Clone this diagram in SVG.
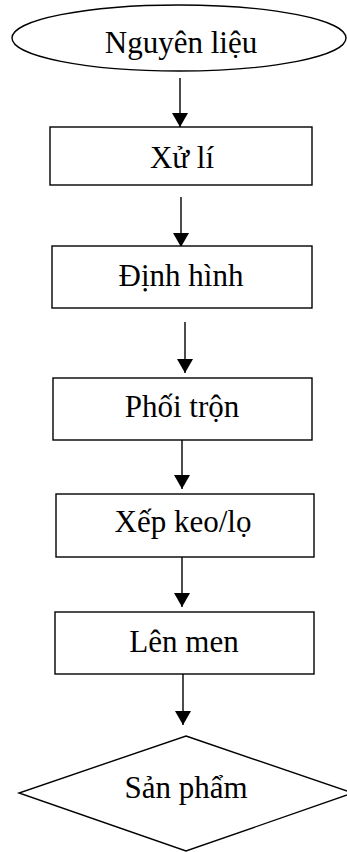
<svg xmlns="http://www.w3.org/2000/svg" width="347" height="852" viewBox="0 0 347 852">
  <style>
    .shape { fill: #ffffff; stroke: #000000; stroke-width: 1.4; }
    .label { font-family: "Liberation Serif", "Times New Roman", serif; font-size: 31px; fill: #000000; text-anchor: middle; }
    .flow { stroke: #000000; stroke-width: 1.4; fill: none; marker-end: url(#head); }
  </style>
  <defs>
    <marker id="head" markerUnits="userSpaceOnUse" markerWidth="14" markerHeight="16" refX="14" refY="8" orient="auto" viewBox="0 0 14 16">
      <path d="M0,0 L14,8 L0,16 Z" fill="#000000"/>
    </marker>
  </defs>
  <rect width="347" height="852" fill="#ffffff"/>

  <g id="connectors">
    <path class="flow" d="M180,78 V127"/>
    <path class="flow" d="M181,197 V247"/>
    <path class="flow" d="M185,322 V373"/>
    <path class="flow" d="M182,440 V489"/>
    <path class="flow" d="M182,557 V607"/>
    <path class="flow" d="M183,674 V725"/>
  </g>

  <g id="nguyen-lieu">
    <ellipse class="shape" cx="179" cy="38" rx="167" ry="33"/>
    <text class="label" x="181" y="53">Nguyên liệu</text>
  </g>

  <g id="xu-li">
    <rect class="shape" x="50" y="127" width="262" height="58"/>
    <text class="label" x="182" y="168">Xử lí</text>
  </g>

  <g id="dinh-hinh">
    <rect class="shape" x="52" y="246" width="260" height="62"/>
    <text class="label" x="181" y="286">Định hình</text>
  </g>

  <g id="phoi-tron">
    <rect class="shape" x="53" y="378" width="259" height="62"/>
    <text class="label" x="182" y="417">Phối trộn</text>
  </g>

  <g id="xep-keo-lo">
    <rect class="shape" x="56" y="494" width="258" height="63"/>
    <text class="label" x="183" y="532">Xếp keo/lọ</text>
  </g>

  <g id="len-men">
    <rect class="shape" x="55" y="612" width="259" height="62"/>
    <text class="label" x="184" y="652">Lên men</text>
  </g>

  <g id="san-pham">
    <polygon class="shape" points="186,736 353,793 186,851 19,793"/>
    <text class="label" x="186" y="798">Sản phẩm</text>
  </g>
</svg>
